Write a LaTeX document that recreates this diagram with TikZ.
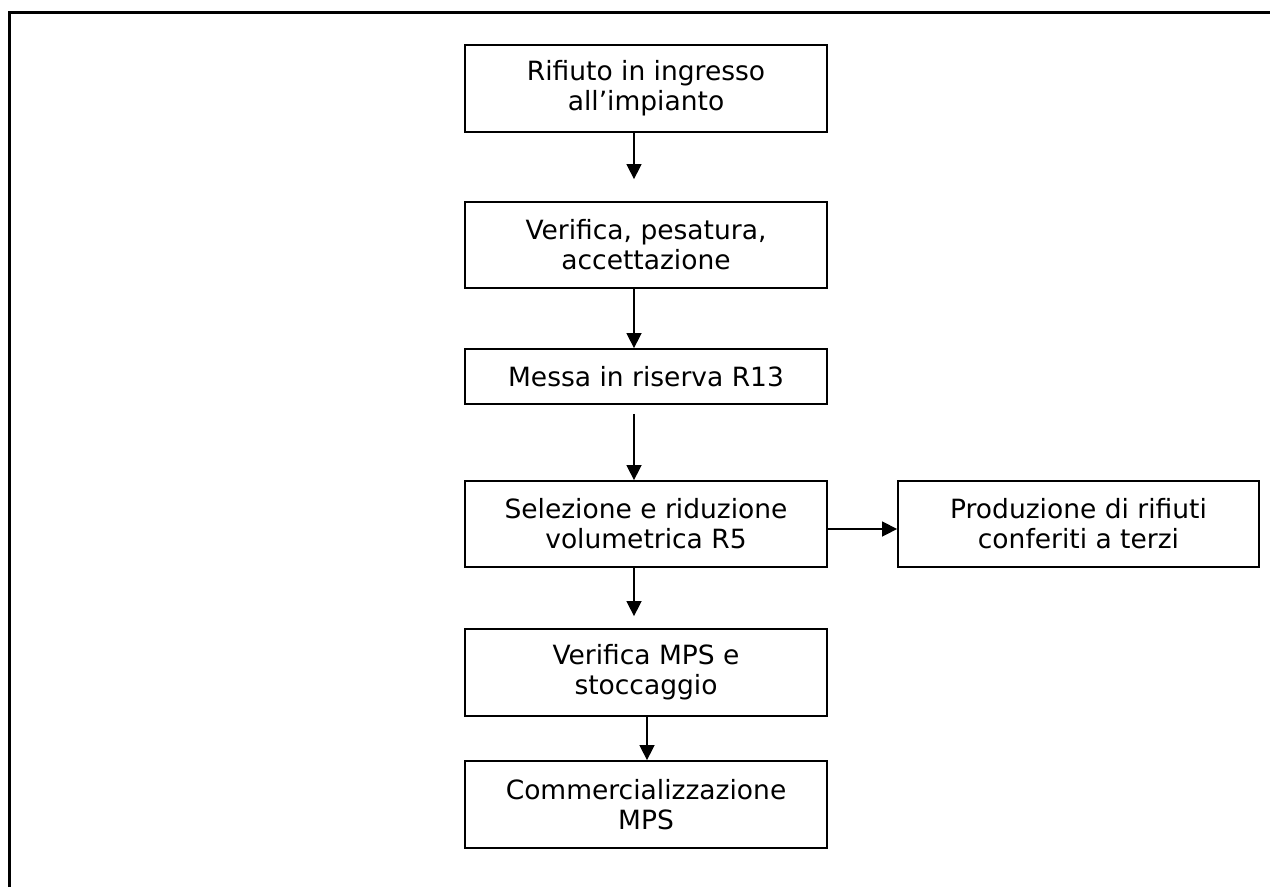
\documentclass[tikz,border=0pt]{standalone}
\usepackage{fontspec}
\setmainfont{DejaVu Sans}
\usetikzlibrary{arrows.meta}
\begin{document}
\begin{tikzpicture}[x=1pt,y=-1pt,
 box/.style={draw,line width=1.8pt,inner sep=0pt,align=center,minimum width=362pt,font=\fontsize{26.5}{30}\selectfont},
 arr/.style={line width=1.5pt,-{Triangle[length=15pt,width=15pt]}},
 frame/.style={line width=2.2pt}]
\useasboundingbox (0,0) rectangle (1270,887);
\draw[frame] (9.5,887) -- (9.5,12.5) -- (1270,12.5);
\node[box,minimum height=87pt] (b1) at (646,88.5) {Rifiuto in ingresso\\all’impianto};
\node[box,minimum height=86pt] (b2) at (646,245) {Verifica, pesatura,\\accettazione};
\node[box,minimum height=55pt] (b3) at (646,376.5) {Messa in riserva R13};
\node[box,minimum height=86pt] (b4) at (646,524) {Selezione e riduzione\\volumetrica R5};
\node[box,minimum height=87pt] (b5) at (646,672.5) {Verifica MPS e\\stoccaggio};
\node[box,minimum height=87pt] (b6) at (646,804.5) {Commercializzazione\\MPS};
\node[box,minimum width=361pt,minimum height=86pt] (b7) at (1078.5,524) {Produzione di rifiuti\\conferiti a terzi};
\coordinate (ax) at (634,0);
\coordinate (bx) at (647,0);
\coordinate (ay) at (0,529);
\draw[arr,shorten >=22pt] (b1.south -| ax) -- (ax |- b2.north);
\draw[arr] (b2.south -| ax) -- (ax |- b3.north);
\draw[arr,shorten <=9pt] (b3.south -| ax) -- (ax |- b4.north);
\draw[arr,shorten >=12pt] (b4.south -| ax) -- (ax |- b5.north);
\draw[arr] (b5.south -| bx) -- (bx |- b6.north);
\draw[arr] (b4.east |- ay) -- (b7.west |- ay);
\end{tikzpicture}
\end{document}
